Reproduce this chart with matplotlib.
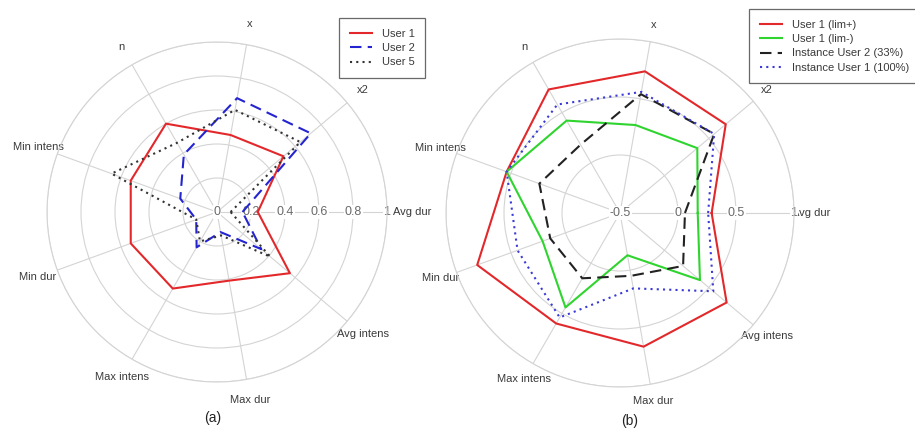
import numpy as np
import matplotlib
matplotlib.use("Agg")
import matplotlib.pyplot as plt

plt.rcParams['font.family'] = ['Liberation Sans', 'DejaVu Sans']

categories = ['Avg dur', 'x2', 'x', 'n', 'Min intens', 'Min dur',
              'Max intens', 'Max dur', 'Avg intens']
angles_deg = [0, 40, 80, 120, 160, 200, 240, 280, 320]

# Panel (a)
user1 = [0.24, 0.51, 0.46, 0.60, 0.54, 0.54, 0.52, 0.41, 0.56]
user2 = [0.15, 0.72, 0.68, 0.39, 0.23, 0.13, 0.24, 0.12, 0.34]
user5 = [0.08, 0.64, 0.61, 0.47, 0.66, 0.13, 0.20, 0.14, 0.41]
ticks_a = [0, 0.2, 0.4, 0.6, 0.8, 1]
tick_labels_a = ['0', '0.2', '0.4', '0.6', '0.8', '1']

# Panel (b)
lim_plus = [0.29, 0.69, 0.74, 0.73, 0.54, 0.81, 0.60, 0.67, 0.70]
lim_minus = [0.17, 0.37, 0.27, 0.42, 0.54, 0.21, 0.44, -0.13, 0.40]
inst_user2 = [0.06, 0.56, 0.54, 0.18, 0.24, 0.14, 0.15, 0.05, 0.21]
inst_user1 = [0.26, 0.56, 0.56, 0.58, 0.54, 0.44, 0.54, 0.16, 0.55]
ticks_b = [-0.5, 0, 0.5, 1]
tick_labels_b = ['-0.5', '0', '0.5', '1']

GRID = '#d4d4d4'
TXT = '#3a3a3a'
FS = 8

fig = plt.figure(figsize=(9.15, 4.3), dpi=100)


def panel(rect, rmin, rmax, rings, ticks, tick_labels, series, label_r, first_extra):
    ax = fig.add_axes(rect, projection='polar')
    ax.set_ylim(rmin, rmax)
    ax.set_thetagrids(angles_deg, [''] * len(angles_deg))
    ax.set_rgrids(rings, [''] * len(rings))
    ax.grid(True, color=GRID, lw=0.8)
    ax.spines['polar'].set_color(GRID)
    ax.spines['polar'].set_linewidth(0.8)
    ax.tick_params(length=0)
    th = np.deg2rad(angles_deg)
    for i, (a, c) in enumerate(zip(th, categories)):
        r = label_r + (first_extra if i == 0 else 0)
        ax.text(a, r, c, ha='center', va='center', fontsize=FS,
                color=TXT, zorder=2.4, clip_on=False)
    for t, lab in zip(ticks, tick_labels):
        ax.text(0, t, lab, ha='center', va='center', fontsize=9,
                color='#6a6a6a', zorder=2.5,
                bbox=dict(facecolor='white', edgecolor='none', pad=0.6))
    lines = []
    for vals, color, ls, lab in series:
        v = list(vals) + [vals[0]]
        tt = list(th) + [th[0]]
        ln, = ax.plot(tt, v, color=color, linestyle=ls, lw=1.5, zorder=3,
                      label=lab, clip_on=False)
        lines.append(ln)
    return ax, lines


W, H = 915, 430
cxa, cya, ra = 217, 212, 170
rect_a = [(cxa - ra) / W, (H - cya - ra) / H, 2 * ra / W, 2 * ra / H]
ax1, l1 = panel(rect_a, 0, 1, [0.2, 0.4, 0.6, 0.8, 1.0], ticks_a, tick_labels_a,
                [(user1, '#e2282b', '-', 'User 1'),
                 (user2, '#2424d0', (0, (5.5, 3)), 'User 2'),
                 (user5, '#333333', (0, (1, 2)), 'User 5')],
                1.12, 0.03)

cxb, cyb, rb = 620, 213, 174
rect_b = [(cxb - rb) / W, (H - cyb - rb) / H, 2 * rb / W, 2 * rb / H]
ax2, l2 = panel(rect_b, -0.5, 1, [0, 0.5, 1.0], ticks_b, tick_labels_b,
                [(lim_plus, '#e2282b', '-', 'User 1 (lim+)'),
                 (lim_minus, '#2fd42f', '-', 'User 1 (lim-)'),
                 (inst_user2, '#222222', (0, (5.5, 3)), 'Instance User 2 (33%)'),
                 (inst_user1, '#3a3ad8', (0, (1, 2)), 'Instance User 1 (100%)')],
                1.15, 0.0)

leg_kw = dict(fontsize=8, frameon=True, fancybox=False, borderpad=0.95,
              labelspacing=0.4, handlelength=2.0, handletextpad=0.9,
              borderaxespad=0, loc='upper left')
lg1 = fig.legend(handles=l1, bbox_to_anchor=(339 / W, 1 - 18 / H), **leg_kw)
lg2 = fig.legend(handles=l2, bbox_to_anchor=(749 / W, 1 - 9 / H), **leg_kw)
for lg in (lg1, lg2):
    lg.get_frame().set_edgecolor('#444444')
    lg.get_frame().set_linewidth(0.9)
    for t in lg.get_texts():
        t.set_color(TXT)

fig.text(213 / W, 1 - 418 / H, '(a)', ha='center', va='center', fontsize=10, color='#222222')
fig.text(630 / W, 1 - 421 / H, '(b)', ha='center', va='center', fontsize=10, color='#222222')

fig.savefig('out.png', dpi=100, facecolor='white')
